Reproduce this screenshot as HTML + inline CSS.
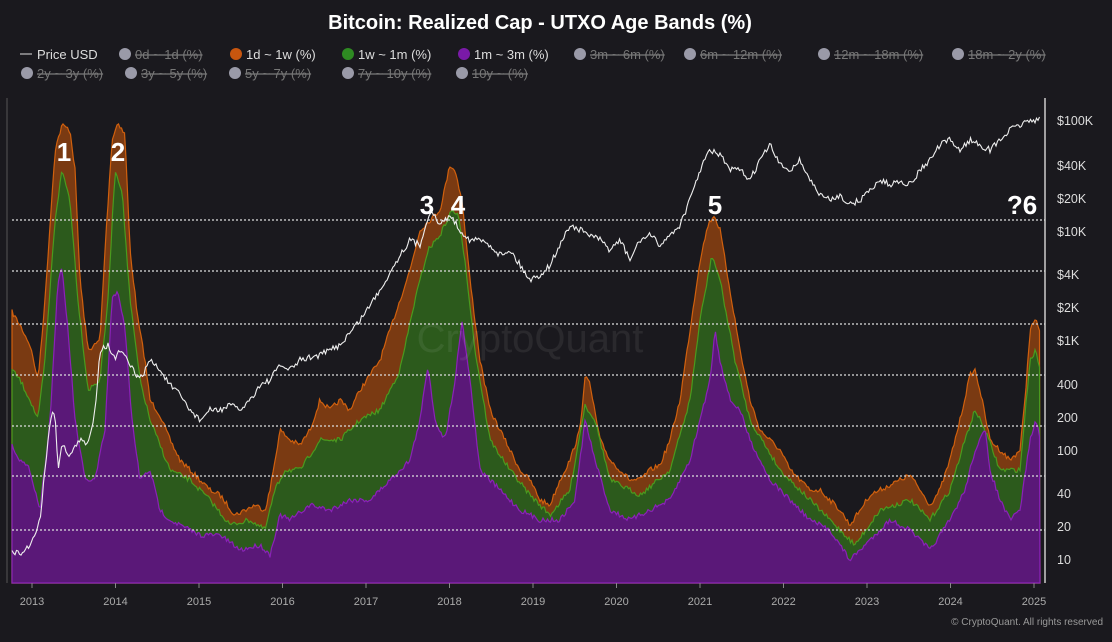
<!DOCTYPE html>
<html><head><meta charset="utf-8"><style>
body{margin:0;background:#1a191e;width:1112px;height:642px;overflow:hidden;font-family:"Liberation Sans",sans-serif;color:#ddd}
</style></head><body>
<svg id="s" width="1112" height="642" xmlns="http://www.w3.org/2000/svg" style="position:absolute;left:0;top:0">
<rect width="1112" height="642" fill="#1a191e"/>
<text x="540" y="29" fill="#fff" font-size="20" font-weight="bold" text-anchor="middle">Bitcoin: Realized Cap - UTXO Age Bands (%)</text>
<g font-size="13" fill="#ddd" id="leg"></g>
<line x1="7" y1="98" x2="7" y2="583" stroke="#555" stroke-width="1"/>
<line x1="1045" y1="98" x2="1045" y2="583" stroke="#ccc" stroke-width="1.5"/>
<g id="areas"></g>
<g id="grid" stroke="#ddd" stroke-width="1.2" stroke-dasharray="2,2"></g>
<path id="price" fill="none" stroke="#eee" stroke-width="1.1"/>
<text x="530" y="352" fill="#fff" fill-opacity="0.07" font-size="40" text-anchor="middle">CryptoQuant</text>
<g fill="#fff" font-size="26" font-weight="bold" text-anchor="middle">
<text x="64" y="161">1</text><text x="118" y="161">2</text><text x="427" y="214">3</text><text x="458" y="214">4</text><text x="715" y="214">5</text><text x="1022" y="214">?6</text></g>
<g id="rax" font-size="12.5" fill="#ddd"></g>
<g id="xax" font-size="11" fill="#aaa" text-anchor="middle"></g>
<text x="1103" y="625" font-size="10" fill="#999" text-anchor="end">© CryptoQuant. All rights reserved</text>
</svg>
<script>
const NS="http://www.w3.org/2000/svg";
function el(p,t,a,txt){const e=document.createElementNS(NS,t);for(const k in a)e.setAttribute(k,a[k]);if(txt!==undefined)e.textContent=txt;p.appendChild(e);return e;}
function parse(s){return s.trim().split(/\s*,\s*/).map(q=>q.split(':').map(Number));}
function interp(pts,x){for(let i=0;i<pts.length-1;i++){if(x>=pts[i][0]&&x<=pts[i+1][0]){const t=(x-pts[i][0])/(pts[i+1][0]-pts[i][0]);return pts[i][1]+t*(pts[i+1][1]-pts[i][1]);}}return pts[x<pts[0][0]?0:pts.length-1][1];}
let seed=7;function rnd(){seed=(seed*16807)%2147483647;return seed/2147483647-0.5;}
const O=parse("12:312,20:325,30:345,38:380,45:300,55:150,62:125,70:130,75:170,80:280,88:350,95:345,100:340,105:250,112:140,118:122,125:135,130:250,138:320,145:360,150:400,160:415,170:440,180:460,190:470,200:480,210:490,220:495,235:515,245:510,255:505,265:510,270:490,280:430,290:440,300:445,310:430,320:400,330:410,340:400,350:410,360:390,370:375,380:360,390:330,400:300,410:270,420:230,430:220,440:210,450:165,455:170,462:200,470:280,480:360,490:410,500:430,510:450,520:470,530:480,540:500,550:505,560:480,570:460,580:430,585:375,590:385,600:440,610:460,620:470,630:480,640:480,650:470,660:465,670:440,680:400,690:330,700:260,708:225,714:215,720:230,730:290,740:350,750:400,760:430,770:440,780:450,790:470,800:480,810:490,820:490,830:500,840:510,850:525,860:510,870:495,880:490,890:485,900:480,910:475,920:490,930:505,940:490,950:460,960:420,970:375,975:370,980:390,990:440,1000:450,1010:460,1020:450,1025:400,1030:330,1035:320,1040:330");
const G=parse("12:370,20:380,30:400,38:420,45:360,55:220,62:170,70:200,78:300,88:390,100:380,108:300,115:170,122:190,130:300,140:380,150:420,170:470,190:480,210:500,230:525,250:520,265:530,275:490,285:470,300:470,320:440,340:440,360:420,380:410,400:370,415:300,428:250,440:235,452:210,458:215,465:260,475:350,490:440,510:470,530:495,550:515,570:490,585:405,595:420,610:480,640:495,670:470,690:400,700:320,712:255,720:280,735:360,750:420,780:470,810:500,840:530,855:545,880:510,910:500,930:520,950:490,965:440,975:410,985:430,1000:470,1020:470,1030:360,1036:350,1040:370");
const P=parse("12:445,20:460,30:470,40:510,50:420,58:280,62:270,68:330,75:420,85:480,95:480,105:430,112:300,118:290,125:330,132:420,140:480,150:470,160:510,170:520,180:525,190:530,200:535,220:535,240:550,260:545,270:555,280:515,290:520,310:505,330:510,350:500,370:500,390:480,410:460,420:420,428:365,435:420,445:440,455:380,462:320,470:380,480:470,500:490,520:510,540:520,560:520,575:500,585:420,595:460,610:510,630:520,650:510,670:500,690:460,700:420,710:380,715:330,720:360,730:400,740:410,750:440,770:480,790:500,810:520,830:530,850:560,870:540,890:520,910:530,930:550,950:520,965:490,975:450,985:430,990:470,1000:500,1010:520,1020:510,1030:440,1036:420,1040:440");
const PR=parse("12:550,20:555,30:545,40:520,50:420,55:410,58:470,62:445,70:455,80:440,88:445,95:410,100:350,108:345,115:360,120:350,130:365,140:380,150:360,160:370,170:385,180:395,190:410,200:420,210:410,220:410,230:405,240:410,250:400,260:385,270:380,280:365,290:370,300:360,320:355,340:345,360:320,380:290,400:255,410:240,420:245,430:210,440:225,450:215,460:230,470:240,480:240,490:245,500:255,510:250,520:265,530:280,540:275,550:265,560:245,570:225,580:230,590:235,600:240,610:250,620:240,630:260,640:240,650:235,660:245,670:235,680:225,690:200,700:170,710:150,720:155,730:170,740:170,750:180,760:160,770:145,780:165,790:170,800:160,810:180,820:195,830:200,840:195,850:205,860:200,870:190,880:180,890:185,900:180,910:185,920:170,930:160,940:145,950:140,960:150,970:140,980:145,990:150,1000:140,1010:130,1020:125,1030:120,1040:120");
function area(pts,col,stroke,n){let d="M12,583";for(let x=12;x<=1040;x+=1.5){let y=interp(pts,x)+rnd()*n;y=Math.min(583,y);d+=`L${x.toFixed(1)},${y.toFixed(1)}`;}d+="L1040,583Z";el(document.getElementById('areas'),'path',{d,fill:col,stroke,'stroke-width':1.2});}
area(O,"#7a3a12","#d0600e",5);area(G,"#2c5a1c","#4a9a1e",5);area(P,"#5a1878","#8a22b8",5);
let d="";for(let x=12;x<=1040;x+=1.5){const y=interp(PR,x)+rnd()*6;d+=(d?"L":"M")+x.toFixed(1)+","+y.toFixed(1);}document.getElementById('price').setAttribute('d',d);
const g=document.getElementById('grid');[220,271,324,375,426,476,530].forEach(y=>el(g,'line',{x1:12,x2:1045,y1:y,y2:y}));
const r=document.getElementById('rax');[["$100K",120],["$40K",165],["$20K",198],["$10K",231],["$4K",274],["$2K",307],["$1K",340],["400",384],["200",417],["100",450],["40",493],["20",526],["10",559]].forEach(([t,y])=>el(r,'text',{x:1057,y:y+5},t));
const xa=document.getElementById('xax');for(let i=0;i<13;i++){const x=32+i*83.5;el(xa,'text',{x,y:605},2013+i);el(xa,'line',{x1:x,x2:x,y1:583,y2:588,stroke:'#888'});}
const L=document.getElementById('leg');
const items=[[[20,"line","Price USD"],[125,"#9a9aa8","0d ~ 1d (%)",1],[236,"#c8560f","1d ~ 1w (%)"],[348,"#2e8a22","1w ~ 1m (%)"],[464,"#7a1aa8","1m ~ 3m (%)"],[580,"#9a9aa8","3m ~ 6m (%)",1],[690,"#9a9aa8","6m ~ 12m (%)",1],[824,"#9a9aa8","12m ~ 18m (%)",1],[958,"#9a9aa8","18m ~ 2y (%)",1]],
[[27,"#9a9aa8","2y ~ 3y (%)",1],[131,"#9a9aa8","3y ~ 5y (%)",1],[235,"#9a9aa8","5y ~ 7y (%)",1],[348,"#9a9aa8","7y ~ 10y (%)",1],[462,"#9a9aa8","10y ~ (%)",1]]];
items.forEach((row,ri)=>{const y=ri?73:54;row.forEach(([x,c,t,off])=>{if(c==="line"){el(L,'line',{x1:x,x2:x+12,y1:y,y2:y,stroke:'#ddd'});el(L,'text',{x:x+17,y:y+5},t);}else{el(L,'circle',{cx:x,cy:y,r:6,fill:c});const tt=el(L,'text',{x:x+10,y:y+5,fill:off?'#777':'#ddd','text-decoration':off?'line-through':'none'},t);}});});
</script>
</body></html>
